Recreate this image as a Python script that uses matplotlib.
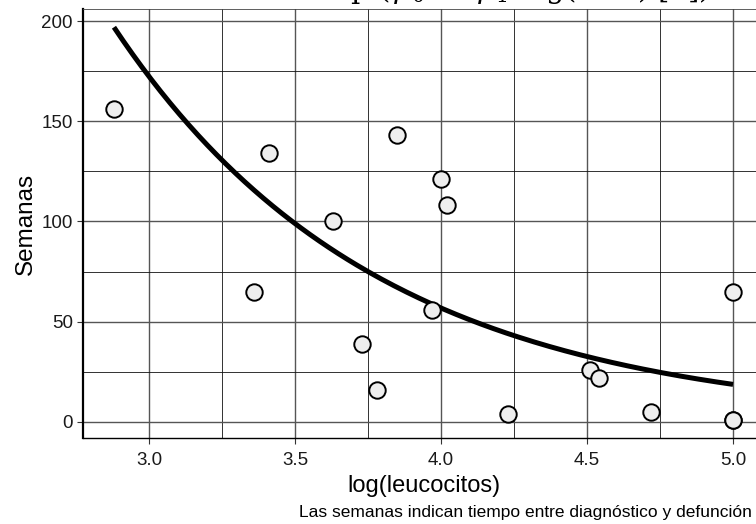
import numpy as np
import matplotlib
matplotlib.use('Agg')
import matplotlib.pyplot as plt
from matplotlib.ticker import MultipleLocator

plt.rcParams['font.family'] = ['Liberation Sans', 'DejaVu Sans']
plt.rcParams['mathtext.fontset'] = 'dejavuserif'

# leucemia, grupo AG positivo
log_leuc = [3.36, 2.88, 3.63, 3.41, 3.78, 4.02, 4.00, 4.23, 3.73, 3.85,
            3.97, 4.51, 4.54, 5.00, 5.00, 4.72, 5.00]
semanas = [65, 156, 100, 134, 16, 108, 121, 4, 39, 143,
           56, 26, 22, 1, 1, 5, 65]

# ajuste exponencial: E(semanas) = exp(b0 + b1*log_leuc)
b0 = 8.4775
b1 = -1.1093

xticks = [3.0, 3.5, 4.0, 4.5, 5.0]
yticks = [0, 50, 100, 150, 200]

fig = plt.figure(figsize=(7.56, 5.24), dpi=100)
ax = fig.add_axes([83/756, 86/524, (764-83)/756, 429/524])
ax.set_xlim(2.774, 5.106)
ax.set_ylim(-8, 206)

ax.set_xticks(xticks)
ax.set_yticks(yticks)
ax.set_xticklabels(['%.1f' % v for v in xticks])
ax.xaxis.set_minor_locator(MultipleLocator(0.25))
ax.yaxis.set_minor_locator(MultipleLocator(25))
ax.set_axisbelow(True)
ax.grid(which='major', color='#555555', lw=1.0)
ax.grid(which='minor', color='#111111', lw=0.6)
ax.tick_params(which='minor', length=0)
ax.tick_params(which='major', length=4.3, width=0.8, color='#333333',
               labelsize=13.5, labelcolor='#1a1a1a', pad=3)
ax.tick_params(axis='x', pad=6)

for s in ['left', 'bottom', 'top', 'right']:
    ax.spines[s].set_color('black')
ax.spines['left'].set_linewidth(1.6)
ax.spines['bottom'].set_linewidth(1.0)
ax.spines['top'].set_linewidth(0.6)
ax.spines['top'].set_color('#444444')

xs = np.linspace(min(log_leuc), max(log_leuc), 200)
ax.plot(xs, np.exp(b0 + b1*xs), color='black', lw=3.6, solid_capstyle='butt', zorder=3)
ax.scatter(log_leuc, semanas, s=140, facecolor='#eeeeee', edgecolor='black',
           linewidth=1.4, zorder=4)

ax.set_xlabel('log(leucocitos)', fontsize=17, labelpad=4)
ax.set_ylabel('Semanas', fontsize=17.5, labelpad=3)

fig.text(470/756, 1 + 2/524,
         r'$\mathrm{SSP}\ \ =\ \ \exp\,(\,\beta_0\ +\ \beta_1\ \log(\mathrm{leuc})\ [\,i\,])\quad 1$',
         ha='center', va='baseline', fontsize=21)
fig.text(752/756, 1 - 512/524,
         'Las semanas indican tiempo entre diagnóstico y defunción',
         ha='right', va='center', fontsize=12.5)

fig.savefig('out.png', dpi=100)
